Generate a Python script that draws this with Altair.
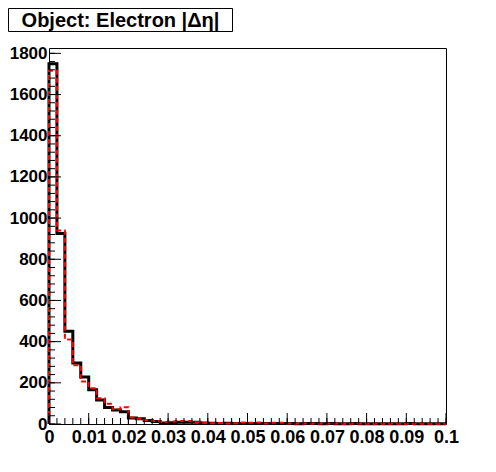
import altair as alt
import pandas as pd

# 50 bins of width 0.002 between 0 and 0.1
bin_width = 0.002
black_counts = [1750, 925, 450, 296, 228, 166, 117, 80, 68, 60,
                29, 25, 17, 12, 5, 6, 8, 8, 8, 5,
                4, 3, 4, 3, 2, 3, 2, 2, 3, 2,
                2, 1, 2, 2, 1, 2, 1, 1, 2, 1,
                1, 1, 1, 1, 1, 2, 1, 1, 1, 1]
red_counts = [1715, 940, 410, 285, 206, 174, 125, 98, 72, 81,
              32, 26, 20, 15, 10, 12, 14, 14, 8, 5,
              4, 5, 3, 4, 7, 6, 7, 3, 6, 6,
              3, 2, 3, 2, 2, 3, 2, 1, 2, 2,
              1, 2, 1, 2, 1, 1, 2, 1, 1, 1]
x_major_ticks = [0, 0.01, 0.02, 0.03, 0.04, 0.05, 0.06, 0.07, 0.08, 0.09, 0.1]
y_major_ticks = [0, 200, 400, 600, 800, 1000, 1200, 1400, 1600, 1800]
x_minor_ticks = [round(i * 0.002, 4) for i in range(51)]
y_minor_ticks = [i * 40 for i in range(46)]
title_text = "Object: Electron |Δη|"

W, H = 397, 376
XMAX, YMAX = 0.1, 1826
FONT = "Liberation Sans"


def step_frame(counts):
    xs = [0.0] + [round(i * bin_width, 4) for i in range(len(counts))] + [XMAX]
    ys = [0] + list(counts) + [counts[-1]]
    return pd.DataFrame({"x": xs, "y": ys, "o": list(range(len(xs)))})


xscale = alt.Scale(domain=[0, XMAX], nice=False, zero=True)
yscale = alt.Scale(domain=[0, YMAX], nice=False, zero=True)

x_axis = alt.Axis(values=x_major_ticks, format="~g", tickSize=0, domain=False, grid=False,
                  labelFont=FONT, labelFontWeight="bold", labelFontSize=18, labelColor="black",
                  labelPadding=4, labelFlush=False, labelOverlap=False, labelBound=False, title=None)
y_axis = alt.Axis(values=y_major_ticks, format="d", tickSize=0, domain=False, grid=False,
                  labelFont=FONT, labelFontWeight="bold", labelFontSize=17, labelColor="black",
                  labelPadding=2, labelFlush=False, labelOverlap=False, labelBound=False, title=None)


def X(field):
    return alt.X(field, scale=xscale, axis=x_axis, title=None)


def Y(field):
    return alt.Y(field, scale=yscale, axis=y_axis, title=None)


black = alt.Chart(step_frame(black_counts)).mark_line(
    interpolate="step-after", color="black", strokeWidth=3
).encode(x=X("x:Q"), y=Y("y:Q"), order="o:Q")

red = alt.Chart(step_frame(red_counts)).mark_line(
    interpolate="step-after", color="#ff0000", strokeWidth=2, strokeDash=[5, 3]
).encode(x=X("x:Q"), y=Y("y:Q"), order="o:Q")

ytick_major = alt.Chart(pd.DataFrame({"v": y_major_ticks})).mark_rule(color="black", strokeWidth=1).encode(
    y=Y("v:Q"), x=alt.value(0), x2=alt.value(12))
ytick_minor = alt.Chart(pd.DataFrame({"v": y_minor_ticks})).mark_rule(color="black", strokeWidth=1).encode(
    y=Y("v:Q"), x=alt.value(0), x2=alt.value(6))
xtick_major = alt.Chart(pd.DataFrame({"v": x_major_ticks})).mark_rule(color="black", strokeWidth=1).encode(
    x=X("v:Q"), y=alt.value(H), y2=alt.value(H - 11))
xtick_minor = alt.Chart(pd.DataFrame({"v": x_minor_ticks})).mark_rule(color="black", strokeWidth=1).encode(
    x=X("v:Q"), y=alt.value(H), y2=alt.value(H - 6))

dummy = pd.DataFrame({"a": [0]})
title_box = alt.Chart(dummy).mark_rect(fill="white", stroke="black", strokeWidth=1).encode(
    x=alt.value(-40.5), x2=alt.value(183.5), y=alt.value(-39.5), y2=alt.value(-16.5))
title_label = alt.Chart(dummy).mark_text(
    text=title_text, font=FONT, fontWeight="bold", fontSize=20, color="black",
    align="center", baseline="middle"
).encode(x=alt.value(71.5), y=alt.value(-27.5))

chart = alt.layer(
    black, red, ytick_minor, ytick_major, xtick_minor, xtick_major, title_box, title_label
).properties(
    width=W, height=H,
    padding={"left": 41, "top": 40, "right": 40, "bottom": 40},
    autosize=alt.AutoSizeParams(type="none"),
    background="white",
).configure_view(stroke="black", strokeWidth=1)

chart.save("out.html", embed_options={"renderer": "svg", "actions": False})
